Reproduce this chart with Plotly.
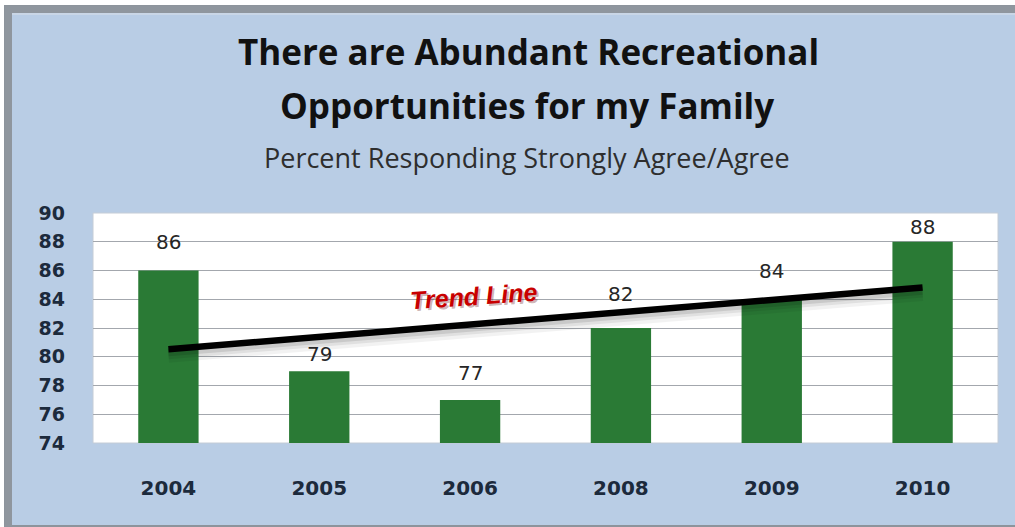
import numpy as np
import plotly.graph_objects as go

# Survey results: share answering Strongly Agree / Agree
years = ["2004", "2005", "2006", "2008", "2009", "2010"]
percent = [86, 79, 77, 82, 84, 88]
y_ticks = [74, 76, 78, 80, 82, 84, 86, 88, 90]

# vertical nudges (px) for the value labels so they clear the trend line
label_shift = [15, 3, 13, 20, 14, 1]

# bar slots along the x axis, labelled with the survey year
idx = list(range(len(years)))

# least-squares trend across the survey waves
slope, intercept = np.polyfit(idx, percent, 1)
trend = [float(intercept + slope * i) for i in idx]

W, H = 1015, 527
L, R, T, B = 93, 998, 213, 443  # plot area in pixels


def px(x):
    return (x - L) / (R - L)


def py(y):
    return (B - y) / (B - T)


BLUE = "#b9cde5"
GREEN = "#2a7a35"
NAVY = "#1c2a3c"
TITLE_FONT = "Open Sans"
AXIS_FONT = "DejaVu Sans"

fig = go.Figure()

# blurred shadow under the trend line (a few stacked translucent strokes)
for off, w, a in [(0.45, 14, 0.05), (0.35, 10, 0.07), (0.25, 7, 0.10)]:
    fig.add_trace(go.Scatter(
        x=idx, y=[t - off for t in trend], mode="lines",
        line=dict(color=f"rgba(0,0,0,{a})", width=w),
        hoverinfo="skip", showlegend=False,
    ))
fig.add_trace(go.Bar(
    x=idx, y=percent, marker=dict(color=GREEN, line=dict(width=0)),
    showlegend=False,
))
fig.add_trace(go.Scatter(
    x=idx, y=trend, mode="lines",
    line=dict(color="#000000", width=6.5),
    showlegend=False,
))

shapes = [
    # chart frame
    dict(type="rect", xref="paper", yref="paper", layer="below",
         x0=px(5), x1=px(1020), y0=py(526), y1=py(6),
         fillcolor=BLUE, line=dict(color="#8d949c", width=2)),
    dict(type="rect", xref="paper", yref="paper", layer="below",
         x0=px(5), x1=px(1020), y0=py(13), y1=py(6),
         fillcolor="#8f969e", line=dict(width=0)),
    dict(type="rect", xref="paper", yref="paper", layer="below",
         x0=px(5), x1=px(12), y0=py(526), y1=py(6),
         fillcolor="#8f969e", line=dict(width=0)),
    dict(type="rect", xref="paper", yref="paper", layer="below",
         x0=px(12), x1=px(1020), y0=py(15), y1=py(13),
         fillcolor="#c9d6e6", line=dict(width=0)),
    # white plotting panel
    dict(type="rect", xref="paper", yref="paper", layer="below",
         x0=0, x1=1, y0=0, y1=1,
         fillcolor="#ffffff", line=dict(color="#c4ccd6", width=1)),
]

annotations = [
    dict(text="<b>There are Abundant Recreational</b>", x=px(528), y=py(51),
         xref="paper", yref="paper", showarrow=False,
         xanchor="center", yanchor="middle",
         font=dict(family=TITLE_FONT, size=35, color="#111111")),
    dict(text="<b>Opportunities for my Family</b>", x=px(527), y=py(105),
         xref="paper", yref="paper", showarrow=False,
         xanchor="center", yanchor="middle",
         font=dict(family=TITLE_FONT, size=35, color="#111111")),
    dict(text="Percent Responding Strongly Agree/Agree", x=px(527), y=py(157),
         xref="paper", yref="paper", showarrow=False,
         xanchor="center", yanchor="middle",
         font=dict(family=TITLE_FONT, size=27, color="#2e2e2e")),
    # "Trend Line" label with a faint drop shadow
    dict(text="<b><i>Trend Line</i></b>", x=px(475), y=py(298),
         xref="paper", yref="paper", showarrow=False, textangle=-4,
         xanchor="center", yanchor="middle",
         font=dict(family="Liberation Sans", size=25, color="rgba(90,0,0,0.3)")),
    dict(text="<b><i>Trend Line</i></b>", x=px(473), y=py(296),
         xref="paper", yref="paper", showarrow=False, textangle=-4,
         xanchor="center", yanchor="middle",
         font=dict(family="Liberation Sans", size=25, color="#c80000")),
]

# value labels above each bar
for i, v, s in zip(idx, percent, label_shift):
    annotations.append(dict(
        x=i, y=v, xref="x", yref="y", text=str(v), showarrow=False,
        yanchor="bottom", yshift=s,
        font=dict(family=AXIS_FONT, size=20, color="#262626"),
    ))

fig.update_layout(
    width=W, height=H,
    margin=dict(l=L, r=W - R, t=T, b=H - B, pad=0),
    paper_bgcolor="#ffffff",
    plot_bgcolor="rgba(0,0,0,0)",
    bargap=0.6,
    shapes=shapes,
    annotations=annotations,
    xaxis=dict(
        range=[-0.5, len(years) - 0.5], tickvals=idx, ticktext=years,
        showgrid=False, showline=False, zeroline=False,
        ticks="", ticklabelstandoff=31,
        tickfont=dict(family=AXIS_FONT, size=20, color=NAVY, weight="bold"),
    ),
    yaxis=dict(
        range=[74, 90], tickvals=y_ticks, showgrid=True,
        gridcolor="#a3a7ad", gridwidth=1, zeroline=False, showline=False,
        ticks="", ticklabelstandoff=27,
        tickfont=dict(family=AXIS_FONT, size=19, color=NAVY, weight="bold"),
    ),
)

fig.write_html("out.html")
